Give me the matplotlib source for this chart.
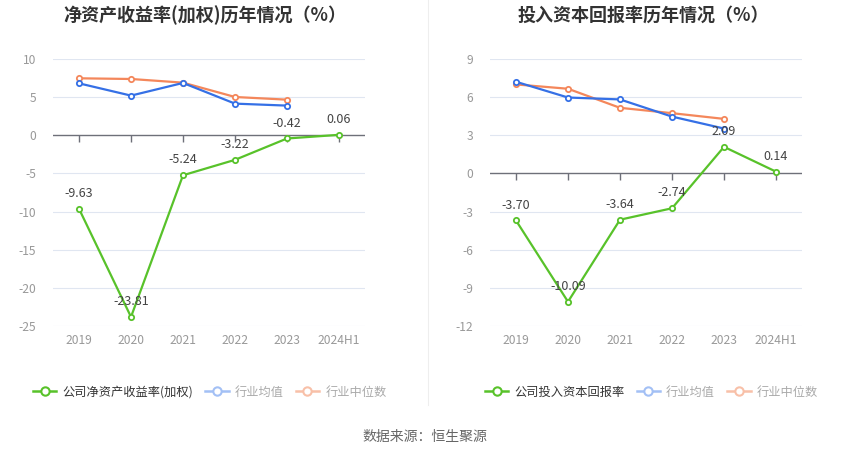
import matplotlib
matplotlib.use("Agg")
from matplotlib import pyplot as plt
from matplotlib.lines import Line2D

plt.rcParams['font.family'] = ['Noto Sans CJK SC', 'DejaVu Sans']
plt.rcParams['axes.unicode_minus'] = False

years = ['2019', '2020', '2021', '2022', '2023', '2024H1']

# 净资产收益率(加权)
roe_company = [-9.63, -23.81, -5.24, -3.22, -0.42, 0.06]
roe_avg = [6.81, 5.2, 6.86, 4.15, 3.89]
roe_median = [7.47, 7.38, 6.9, 5.02, 4.67]

# 投入资本回报率
roic_company = [-3.70, -10.09, -3.64, -2.74, 2.09, 0.14]
roic_avg = [7.21, 5.97, 5.82, 4.47, 3.53]
roic_median = [7.0, 6.66, 5.16, 4.74, 4.29]

GREEN = '#58c22a'
BLUE = '#3570e6'
ORANGE = '#f4875b'
GRID = '#e0e6f1'
TICK = '#999999'

fig = plt.figure(figsize=(8.5, 4.59), dpi=100)


def draw(rect, title, title_x, comp, avg, med, yticks, legend_label, legend_x):
    ax = fig.add_axes(rect)
    x = list(range(len(years)))
    ax.set_xlim(-0.5, len(years) - 0.5)
    ax.set_ylim(yticks[0], yticks[-1])
    ax.set_yticks(yticks)
    ax.set_yticklabels([str(v) for v in yticks])
    ax.set_xticks(x)
    ax.set_xticklabels(years)
    ax.tick_params(length=0, colors=TICK, labelsize=8.7)
    ax.tick_params(axis='y', pad=12)
    ax.tick_params(axis='x', pad=6)
    for s in ax.spines.values():
        s.set_visible(False)
    for v in yticks:
        if v != 0:
            ax.axhline(v, color=GRID, lw=0.8, zorder=0)
    ax.axhline(0, color='#6e7079', lw=1, zorder=1)
    ax.plot(x, [0] * len(x), ls='none', marker=3, ms=5, mew=1, color='#6e7079', zorder=1)

    mk = dict(marker='o', ms=3.8, mfc='white', mew=1.3, lw=1.6)
    xa = x[:len(avg)]
    ax.plot(xa, med, color=ORANGE, zorder=3, **mk)
    ax.plot(xa, avg, color=BLUE, zorder=3, **mk)
    ax.plot(x, comp, color=GREEN, zorder=4, **mk)
    for xi, v in zip(x, comp):
        ax.annotate('%.2f' % v, (xi, v), xytext=(0, 11), textcoords='offset points',
                    ha='center', va='center', fontsize=9, color='#444444', zorder=5)

    fig.text(title_x, 1 - 15 / 459, title, ha='center', va='center',
             fontsize=13, fontweight='bold', color='#333333')

    lk = dict(marker='o', ms=6, mfc='white', mew=1.5, lw=1.8)
    handles = [
        Line2D([], [], color=GREEN, **lk),
        Line2D([], [], color='#a3c0f5', **lk),
        Line2D([], [], color='#f8c0a8', **lk),
    ]
    leg = fig.legend(handles, [legend_label, '行业均值', '行业中位数'],
                     loc='center left', bbox_to_anchor=(legend_x, 1 - 392 / 459),
                     ncol=3, frameon=False, fontsize=8.8, handlelength=1.9,
                     handletextpad=0.5, columnspacing=1.0, borderaxespad=0, borderpad=0)
    cols = ['#333333', '#aaaaaa', '#aaaaaa']
    for t, c in zip(leg.get_texts(), cols):
        t.set_color(c)
    return ax


draw([53 / 850, 1 - 326 / 459, 312 / 850, 267 / 459], '净资产收益率(加权)历年情况（%）', 205 / 850,
     roe_company, roe_avg, roe_median, [-25, -20, -15, -10, -5, 0, 5, 10],
     '公司净资产收益率(加权)', 33 / 850)
draw([490 / 850, 1 - 326 / 459, 312 / 850, 267 / 459], '投入资本回报率历年情况（%）', 643 / 850,
     roic_company, roic_avg, roic_median, [-12, -9, -6, -3, 0, 3, 6, 9],
     '公司投入资本回报率', 485 / 850)

fig.add_artist(Line2D([428 / 850, 428 / 850], [1 - 405 / 459, 1.0], color='#eeeeee', lw=0.8))
fig.text(425 / 850, 1 - 437 / 459, '数据来源：恒生聚源', ha='center', va='center',
         fontsize=10, color='#666666')

fig.savefig('out.png', dpi=100)
